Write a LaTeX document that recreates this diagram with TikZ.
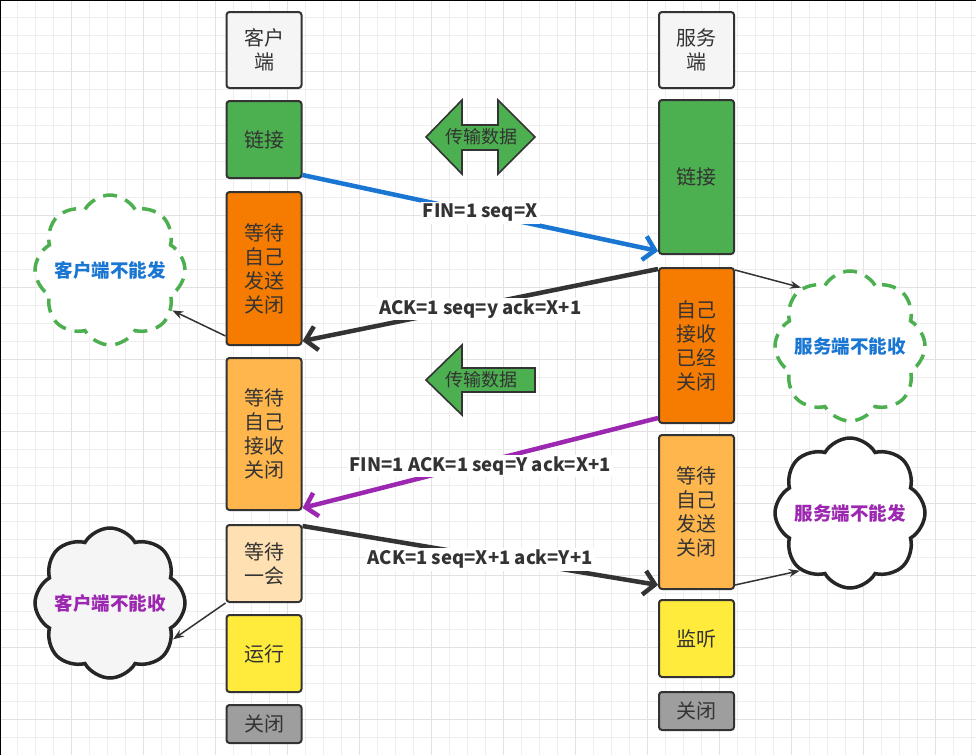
\documentclass[tikz,border=0pt]{standalone}
\usepackage{fontspec}
\setmainfont{Noto Sans CJK SC}
\usetikzlibrary{arrows.meta,shapes.symbols}
\definecolor{ink}{HTML}{333333}
\definecolor{gminor}{HTML}{EEEEEE}
\definecolor{gmajor}{HTML}{E2E2E2}
\definecolor{cgray}{HTML}{F5F5F5}
\definecolor{cgreen}{HTML}{4CAF50}
\definecolor{corange}{HTML}{F57C00}
\definecolor{clorange}{HTML}{FFB74D}
\definecolor{cpeach}{HTML}{FFE0B2}
\definecolor{cyellow}{HTML}{FFEB3B}
\definecolor{cdgray}{HTML}{9E9E9E}
\definecolor{cblue}{HTML}{1976D2}
\definecolor{cpurple}{HTML}{9C27B0}
\begin{document}
\begin{tikzpicture}[x=1pt,y=-1pt,
  box/.style={draw=ink, line width=2pt, rounded corners=3pt, minimum width=75pt,
    inner sep=0pt, align=center, text=ink, font=\fontsize{20}{24}\selectfont},
  lbl/.style={fill=white, inner sep=2pt, text=ink, font=\fontsize{18.5}{22}\selectfont\bfseries},
  cloudbase/.style={cloud, cloud puffs=8, cloud puff arc=120, cloud ignores aspect,
    minimum width=150pt, minimum height=150pt, inner sep=0pt, line width=3.5pt},
  cltxt/.style={font=\fontsize{18.5}{22}\selectfont\bfseries, inner sep=0pt},
  dashcloud/.style={cloudbase, draw=cgreen, fill=white, dash pattern=on 14pt off 9pt},
  solidcloud/.style={cloudbase, draw=black!85},
  thin/.style={draw=ink, line width=1.5pt, -{Stealth[length=11pt,width=8pt]}},
  fat/.style={line width=4.5pt, -{Straight Barb[length=11pt,width=24pt]}},
  blk/.style={draw=ink, line width=1.6pt, fill=cgreen, line join=miter},
  blktxt/.style={text=ink, font=\fontsize{18}{22}\selectfont}
]
\useasboundingbox (0,0) rectangle (976,755);
\fill[white] (0,0) rectangle (976,755);
% grid
\foreach \i in {1,...,54} {\draw[gminor, line width=1pt] (\i*18-0.5,0) -- (\i*18-0.5,755);}
\foreach \i in {1,...,41} {\draw[gminor, line width=1pt] (0,\i*18-0.5) -- (976,\i*18-0.5);}
\foreach \i in {1,...,13} {\draw[gmajor, line width=1pt] (\i*72-0.5,0) -- (\i*72-0.5,755);}
\foreach \i in {1,...,10} {\draw[gmajor, line width=1pt] (0,\i*72-0.5) -- (976,\i*72-0.5);}
\draw[black, line width=2pt] (0,755) -- (0,0) -- (976,0);

% client column
\node[box, fill=cgray, minimum height=76pt] (cH) at (264,50) {客户\\端};
\node[box, fill=cgreen, minimum height=77pt] (cL) at (264,139.5) {链接};
\node[box, fill=corange, minimum height=153pt] (cW1) at (264,268.5) {等待\\自己\\发送\\关闭};
\node[box, fill=clorange, minimum height=152pt] (cW2) at (264,434) {等待\\自己\\接收\\关闭};
\node[box, fill=cpeach, minimum height=77pt] (cW3) at (264,563.5) {等待\\一会};
\node[box, fill=cyellow, minimum height=77pt] (cR) at (264,653.5) {运行};
\node[box, fill=cdgray, minimum height=38pt] (cC) at (264,724) {关闭};

% server column
\node[box, fill=cgray, minimum height=76pt] (sH) at (696.5,50) {服务\\端};
\node[box, fill=cgreen, minimum height=154pt] (sL) at (696.5,177) {链接};
\node[box, fill=corange, minimum height=155pt] (sW1) at (696.5,345.5) {自己\\接收\\已经\\关闭};
\node[box, fill=clorange, minimum height=154pt] (sW2) at (696.5,512) {等待\\自己\\发送\\关闭};
\node[box, fill=cyellow, minimum height=77pt] (sM) at (696.5,638.5) {监听};
\node[box, fill=cdgray, minimum height=38pt] (sC) at (696.5,711) {关闭};

% block arrows
\draw[blk] (426,137) -- (462,100) -- (462,125) -- (498,125) -- (498,100) -- (535,137)
  -- (498,174) -- (498,150) -- (462,150) -- (462,174) -- cycle;
\node[blktxt] (t1) at (481,137) {传输数据};
\draw[blk] (426,380) -- (462,345) -- (462,368) -- (535,368) -- (535,392) -- (462,392)
  -- (462,415) -- cycle;
\node[blktxt] (t2) at (481,380) {传输数据};

% clouds
\node[dashcloud] (k1) at (110,270) {};
\node[cltxt, text=cblue] (k1t) at (k1) {客户端不能发};
\node[dashcloud] (k2) at (850,346) {};
\node[cltxt, text=cblue] (k2t) at (k2) {服务端不能收};
\node[solidcloud, fill=cgray] (k3) at (110,603) {};
\node[cltxt, text=cpurple] (k3t) at (k3) {客户端不能收};
\node[solidcloud, fill=white] (k4) at (850,513) {};
\node[cltxt, text=cpurple] (k4t) at (k4) {服务端不能发};

% main connectors
\draw[fat, draw=cblue] ([yshift=4pt]cL.south east) -- ([yshift=4pt]sL.south west)
  node[lbl, pos=0.5] {FIN=1 seq=X};
\draw[fat, draw=ink] ([yshift=-2pt]sW1.north west) -- ([yshift=5pt]cW1.south east)
  node[lbl, pos=0.5, yshift=-4pt] {ACK=1 seq=y ack=X+1};
\draw[fat, draw=cpurple] ([yshift=6pt]sW1.south west) -- ([yshift=3pt]cW2.south east)
  node[lbl, pos=0.5, yshift=-3pt] {FIN=1 ACK=1 seq=Y ack=X+1};
\draw[fat, draw=ink] ([yshift=-2pt]cW3.north east) -- ([yshift=5pt]sW2.south west)
  node[lbl, pos=0.5, yshift=-4pt] {ACK=1 seq=X+1 ack=Y+1};

% thin arrows to clouds
\draw[thin] ([yshift=10pt]cW1.south west) -- (k1.-33);
\draw[thin] ([yshift=-3pt]sW1.north east) -- (k2.130);
\draw[thin] (cW3.south west) -- (k3.-30);
\draw[thin] ([yshift=5pt]sW2.south east) -- (k4.229);
\end{tikzpicture}
\end{document}
